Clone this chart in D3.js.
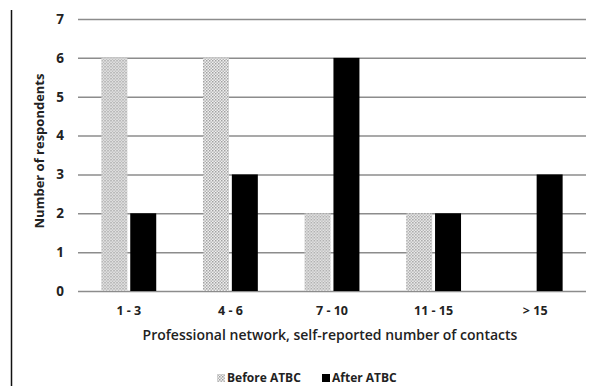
<!DOCTYPE html>
<html><head><meta charset="utf-8">
<script src="https://cdn.jsdelivr.net/npm/d3@7"></script>
<style>body{margin:0;background:#fff}svg{display:block}text{font-family:"Open Sans",Lato,sans-serif;fill:#222}</style>
</head><body>
<script>
const categories = ["1 - 3", "4 - 6", "7 - 10", "11 - 15", "> 15"];
const seriesNames = ["Before ATBC", "After ATBC"];
const beforeValues = [6, 6, 2, 2, 0];
const afterValues = [2, 3, 6, 2, 3];
const yTicks = [0, 1, 2, 3, 4, 5, 6, 7];

(function () {
const W = 598, H = 386;
const svg = d3.select("body").append("svg").attr("width", W).attr("height", H);
const defs = svg.append("defs");
const pat = defs.append("pattern").attr("id", "dots").attr("patternUnits", "userSpaceOnUse")
  .attr("width", 3).attr("height", 3);
pat.append("rect").attr("width", 3).attr("height", 3).attr("fill", "#f0f0f0");
pat.append("rect").attr("width", 1.5).attr("height", 1.5).attr("fill", "#a0a0a0");
pat.append("rect").attr("x", 1.5).attr("y", 1.5).attr("width", 1.5).attr("height", 1.5).attr("fill", "#b4b4b4");

const mLeft = 78, mRight = 586, mTop = 19, mBottom = 291;
const y = d3.scaleLinear().domain([0, 7]).range([mBottom, mTop]);
const x0 = d3.scaleBand().domain(categories).range([mLeft, mRight]).paddingInner(0.46).paddingOuter(0.23);
const x1 = d3.scaleBand().domain(seriesNames).range([0, x0.bandwidth()]).paddingInner(0.1);
const fills = {"Before ATBC": "url(#dots)", "After ATBC": "#000"};

svg.append("line").attr("x1", 11.5).attr("x2", 11.5).attr("y1", 10).attr("y2", H).attr("stroke", "#111").attr("stroke-width", 1.5);

const yAxis = d3.axisLeft(y).tickValues(yTicks).tickSize(-(mRight - mLeft)).tickPadding(12).tickFormat(d3.format("d"));
const gy = svg.append("g").attr("transform", `translate(${mLeft},0)`).call(yAxis);
gy.select(".domain").remove();
gy.selectAll(".tick line").attr("stroke", "#8c8c8c").attr("stroke-width", 1.5);
gy.selectAll(".tick text").attr("font-size", 13.5).attr("font-weight", "bold").attr("fill", "#333").attr("x", -14);

const data = categories.map((c, i) => ({cat: c, vals: [
  {s: seriesNames[0], v: beforeValues[i]}, {s: seriesNames[1], v: afterValues[i]}]}));
const g = svg.append("g");
g.selectAll("g.cat").data(data).join("g").attr("class", "cat").attr("transform", d => `translate(${x0(d.cat)},0)`)
 .selectAll("rect").data(d => d.vals.filter(e => e.v > 0)).join("rect")
 .attr("x", d => x1(d.s)).attr("width", x1.bandwidth())
 .attr("y", d => y(d.v)).attr("height", d => y(0) - y(d.v))
 .attr("fill", d => fills[d.s]);

const xAxis = d3.axisBottom(x0).tickSize(0).tickPadding(15);
const gx = svg.append("g").attr("transform", `translate(0,${mBottom})`).call(xAxis);
gx.select(".domain").remove();
gx.selectAll(".tick text").attr("font-size", 12.5).attr("font-weight", "bold").attr("fill", "#333");

svg.append("text").attr("x", 330).attr("y", 340).attr("text-anchor", "middle")
  .attr("font-size", 14).attr("font-weight", "600").text("Professional network, self-reported number of contacts");
svg.append("text").attr("transform", "translate(44,151) rotate(-90)").attr("text-anchor", "middle")
  .attr("font-size", 13).attr("font-weight", "bold").text("Number of respondents");

const leg = svg.append("g").attr("transform", "translate(0,382)");
const legItems = [{s: seriesNames[0], x: 217}, {s: seriesNames[1], x: 322}];
legItems.forEach(it => {
  leg.append("rect").attr("x", it.x).attr("y", -8).attr("width", 8).attr("height", 8).attr("fill", fills[it.s]);
  leg.append("text").attr("x", it.x + 10).attr("y", 0).attr("font-size", 12).attr("font-weight", "bold").text(it.s);
});
})();
</script>
</body></html>
